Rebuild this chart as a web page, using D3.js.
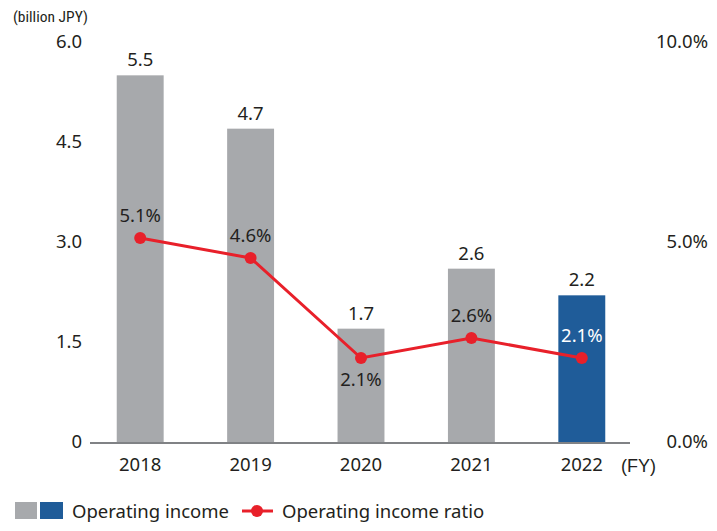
<!DOCTYPE html>
<html><head><meta charset="utf-8">
<script src="https://cdn.jsdelivr.net/npm/d3@7"></script>
<style>body{margin:0;background:#fff}svg{display:block}</style>
</head><body><svg id="c" width="717" height="531"></svg>
<script>
const years = ["2018","2019","2020","2021","2022"];
const income = [5.5, 4.7, 1.7, 2.6, 2.2];
const ratio = [5.1, 4.6, 2.1, 2.6, 2.1];
const leftTicks = [0, 1.5, 3.0, 4.5, 6.0];
const rightTicks = [0, 5, 10];
const ratioLabelPos = ["above","above","below","above","above"];

const svg = d3.select("#c");
const font = "'Noto Sans', sans-serif";
const fs = 18.5;
const txt = "#231f20";
const x = d3.scaleBand().domain(years).range([85, 637]).paddingInner(0.575).paddingOuter(0.2875);
const y = d3.scaleLinear().domain([0, 6]).range([442, 42]);
const y2 = d3.scaleLinear().domain([0, 10]).range([442, 42]);

const yl = d3.axisLeft(y).tickValues(leftTicks).tickSize(0).tickFormat(d => d === 0 ? "0" : d3.format(".1f")(d));
const gl = svg.append("g").attr("transform","translate(87,0)").call(yl);
gl.select(".domain").remove();
gl.selectAll("text").attr("font-family", font).attr("font-size", fs).attr("fill", txt).attr("dx", -2);

const yr = d3.axisRight(y2).tickValues(rightTicks).tickSize(0).tickFormat(d => d3.format(".1f")(d) + "%");
const gr = svg.append("g").attr("transform","translate(705,0)").call(yr);
gr.select(".domain").remove();
gr.selectAll("text").attr("font-family", font).attr("font-size", fs).attr("fill", txt).attr("text-anchor","end");

svg.append("text").attr("x", 13).attr("y", 22).text("(billion JPY)")
  .attr("font-family","'Liberation Sans Narrow', 'Roboto Condensed', sans-serif").attr("font-size", 15.5).attr("fill", txt);

svg.selectAll("rect.bar").data(years).enter().append("rect")
  .attr("x", d => x(d)).attr("width", x.bandwidth())
  .attr("y", (d,i) => y(income[i])).attr("height", (d,i) => y(0) - y(income[i]))
  .attr("fill", (d,i) => i === years.length - 1 ? "#1f5c99" : "#a7a9ac");

svg.append("line").attr("x1", 90).attr("x2", 630).attr("y1", y(0)+1).attr("y2", y(0)+1)
  .attr("stroke", "#808285").attr("stroke-width", 2);

const xa = d3.axisBottom(x).tickSize(0);
const gx = svg.append("g").attr("transform", `translate(0,${y(0)+13})`).call(xa);
gx.select(".domain").remove();
gx.selectAll("text").attr("font-family", font).attr("font-size", fs).attr("fill", txt);
svg.append("text").attr("x", 621).attr("y", 472).text("(FY)")
  .attr("font-family","'Liberation Sans Narrow', sans-serif").attr("font-size", 18).attr("fill", txt);

svg.selectAll("text.val").data(years).enter().append("text")
  .attr("x", d => x(d) + x.bandwidth()/2).attr("y", (d,i) => y(income[i]) - 9)
  .attr("text-anchor","middle").attr("font-family", font).attr("font-size", fs).attr("fill", txt)
  .text((d,i) => d3.format(".1f")(income[i]));

const cx = d => x(d) + x.bandwidth()/2;
const line = d3.line().x((d,i) => cx(years[i])).y(d => y2(d));
svg.append("path").datum(ratio).attr("d", line).attr("fill","none").attr("stroke","#e8202a").attr("stroke-width", 3);
svg.selectAll("circle.pt").data(ratio).enter().append("circle")
  .attr("cx", (d,i) => cx(years[i])).attr("cy", d => y2(d)).attr("r", 6).attr("fill", "#e8202a");

svg.selectAll("text.rat").data(ratio).enter().append("text")
  .attr("x", (d,i) => cx(years[i]))
  .attr("y", (d,i) => ratioLabelPos[i] === "above" ? y2(d) - 16 : y2(d) + 28)
  .attr("text-anchor","middle").attr("font-family", font).attr("font-size", fs)
  .attr("fill", (d,i) => i === years.length - 1 ? "#ffffff" : txt)
  .text(d => d3.format(".1f")(d) + "%");

const lg = svg.append("g");
lg.append("rect").attr("x", 15).attr("y", 502).attr("width", 22).attr("height", 17).attr("fill", "#a7a9ac");
lg.append("rect").attr("x", 40).attr("y", 502).attr("width", 23).attr("height", 17).attr("fill", "#1f5c99");
lg.append("text").attr("x", 72).attr("y", 518).text("Operating income")
  .attr("font-family", font).attr("font-size", fs).attr("fill", txt);
lg.append("line").attr("x1", 242).attr("x2", 273).attr("y1", 511).attr("y2", 511).attr("stroke","#e8202a").attr("stroke-width", 3);
lg.append("circle").attr("cx", 257).attr("cy", 511).attr("r", 6).attr("fill","#e8202a");
lg.append("text").attr("x", 282).attr("y", 518).text("Operating income ratio")
  .attr("font-family", font).attr("font-size", fs).attr("fill", txt);
</script></body></html>
